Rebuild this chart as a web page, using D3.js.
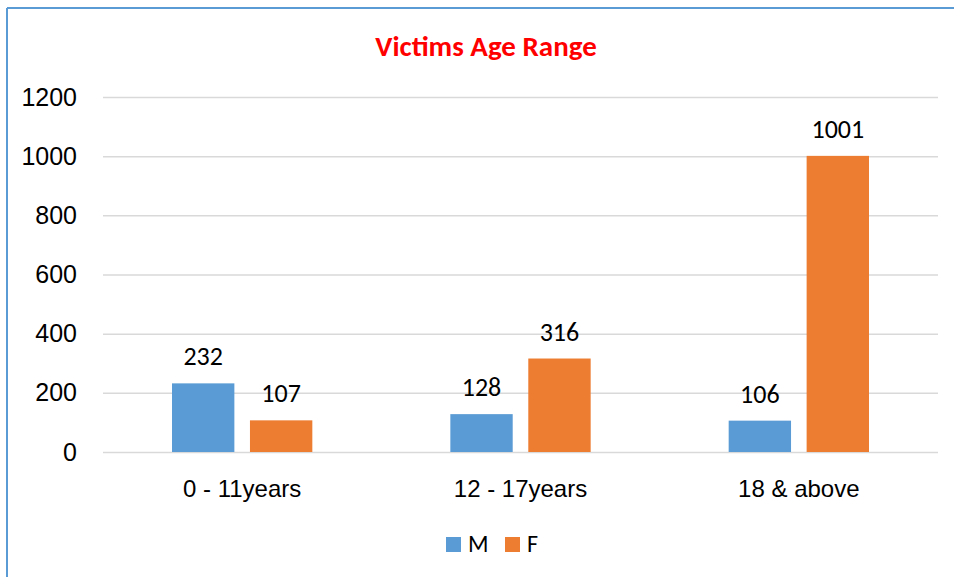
<!DOCTYPE html>
<html>
<head>
<meta charset="utf-8">
<script src="https://cdn.jsdelivr.net/npm/d3@7"></script>
<style>
 body { margin: 0; background: #fff; }
 svg { display: block; font-family: Carlito, "Open Sans", "Liberation Sans", sans-serif; }
</style>
</head>
<body>
<svg width="954" height="577"></svg>
<script>
// Data
var categories = ["0 - 11years", "12 - 17years", "18 & above"];
var seriesNames = ["M", "F"];
var valuesM = [232, 128, 106];
var valuesF = [107, 316, 1001];
var yTicks = [0, 200, 400, 600, 800, 1000, 1200];
var colors = ["#5B9BD5", "#ED7D31"];

var svg = d3.select("svg"),
 width = +svg.attr("width"),
 height = +svg.attr("height");

// frame lines (left and top)
svg.append("line").attr("x1", 7).attr("x2", 7).attr("y1", 8).attr("y2", height)
 .attr("stroke", "#5B9BD5").attr("stroke-width", 2);
svg.append("line").attr("x1", 7).attr("x2", width).attr("y1", 8).attr("y2", 8)
 .attr("stroke", "#5B9BD5").attr("stroke-width", 2);

var margin = {left: 103, right: 16, top: 97, bottom: 125};
var plotW = width - margin.left - margin.right,
 plotH = height - margin.top - margin.bottom;

var g = svg.append("g").attr("transform", "translate(" + margin.left + "," + margin.top + ")");

var x0 = d3.scaleBand().domain(categories).range([0, plotW]);
var x1 = d3.scaleBand().domain(seriesNames).range([69, x0.bandwidth() - 69]).paddingInner(0.2);
var y = d3.scaleLinear().domain([0, 1200]).range([plotH, 0]);

// Title
svg.append("text")
 .attr("x", 486).attr("y", 56)
 .attr("text-anchor", "middle")
 .attr("fill", "#FF0000")
 .style("font-size", "29px").style("font-weight", "bold")
 .text("Victims Age Range");

// Grid
var yAxis = d3.axisLeft(y).tickValues(yTicks).tickSize(-plotW).tickPadding(26)
 .tickFormat(d3.format("d"));
var ya = g.append("g").call(yAxis);
ya.select(".domain").remove();
ya.selectAll("line").attr("stroke", "#d9d9d9").attr("stroke-width", 1.5);
ya.selectAll("text").attr("fill", "#000").style("font-size", "25px")
 .attr("font-family", null);

// x axis labels
var xAxis = d3.axisBottom(x0).tickSize(0).tickPadding(28);
var xa = g.append("g").attr("transform", "translate(0," + plotH + ")").call(xAxis);
xa.select(".domain").remove();
xa.selectAll("text").attr("fill", "#000").style("font-size", "24px")
 .attr("font-family", null);

// Bars
var rows = categories.map(function (c, i) {
 return {cat: c, vals: [{k: "M", v: valuesM[i]}, {k: "F", v: valuesF[i]}]};
});

var groups = g.selectAll(".grp").data(rows).enter().append("g")
 .attr("transform", function (d) { return "translate(" + x0(d.cat) + ",0)"; });

groups.selectAll("rect").data(function (d) { return d.vals; }).enter().append("rect")
 .attr("x", function (d) { return x1(d.k); })
 .attr("y", function (d) { return y(d.v); })
 .attr("width", x1.bandwidth())
 .attr("height", function (d) { return plotH - y(d.v); })
 .attr("fill", function (d, i) { return colors[i]; });

groups.selectAll(".lbl").data(function (d) { return d.vals; }).enter().append("text")
 .attr("x", function (d) { return x1(d.k) + x1.bandwidth() / 2; })
 .attr("y", function (d) { return y(d.v) - 18; })
 .attr("text-anchor", "middle")
 .style("font-size", "26px")
 .text(function (d) { return d.v; });

// Legend
var legend = svg.append("g").attr("transform", "translate(446,537)");
var li = legend.selectAll("g").data(seriesNames).enter().append("g")
 .attr("transform", function (d, i) { return "translate(" + (i * 59) + ",0)"; });
li.append("rect").attr("width", 15).attr("height", 15)
 .attr("fill", function (d, i) { return colors[i]; });
li.append("text").attr("x", 22).attr("y", 15).style("font-size", "24px")
 .text(function (d) { return d; });
</script>
</body>
</html>
